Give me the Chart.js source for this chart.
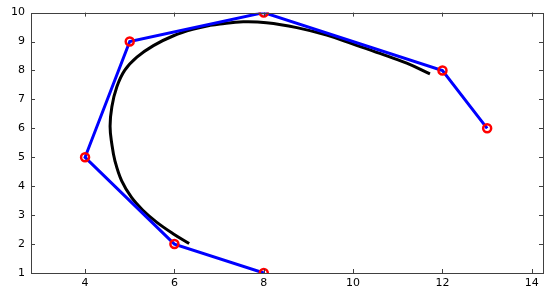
<!DOCTYPE html>
<html>
<head>
<meta charset="utf-8">
<script src="https://cdn.jsdelivr.net/npm/chart.js@4"></script>
<style>
  html, body { margin: 0; padding: 0; background: #fff; }
  #wrap { width: 550px; height: 293px; }
</style>
</head>
<body>
<div id="wrap"><canvas id="splineChart"></canvas></div>
<script>
// Control polygon (blue with red markers)
const ctrlX = [8, 6, 4, 5, 8, 12, 13];
const ctrlY = [1, 2, 5, 9, 10, 8, 6];

// Spline curve
const curveX = [6.33, 5.97, 5.60, 5.30, 5.04, 4.82, 4.67, 4.60, 4.56, 4.60, 4.71, 4.89, 5.16, 5.53, 5.98, 6.43, 6.80, 7.02, 7.54, 8.06, 8.74, 9.41, 10.00, 10.60, 11.20, 11.72];
const curveY = [2.02, 2.36, 2.76, 3.16, 3.61, 4.18, 4.87, 5.45, 6.07, 6.75, 7.43, 8.01, 8.46, 8.86, 9.20, 9.43, 9.56, 9.61, 9.68, 9.65, 9.48, 9.22, 8.91, 8.59, 8.25, 7.88];

// Tick labels
const xTicks = [4, 6, 8, 10, 12, 14];
const yTicks = [1, 2, 3, 4, 5, 6, 7, 8, 9, 10];

const toPoints = (xs, ys) => xs.map((x, i) => ({ x: x, y: ys[i] }));

// Box around the axes with inward ticks, like the original
const boxTicks = {
  id: 'boxTicks',
  afterDraw(chart) {
    const { ctx, chartArea: a, scales } = chart;
    ctx.save();
    ctx.strokeStyle = '#404040';
    ctx.lineWidth = 1;
    ctx.beginPath();
    xTicks.forEach(v => {
      const px = Math.round(scales.x.getPixelForValue(v)) + 0.5;
      ctx.moveTo(px, a.bottom); ctx.lineTo(px, a.bottom - 4);
      ctx.moveTo(px, a.top); ctx.lineTo(px, a.top + 4);
    });
    yTicks.forEach(v => {
      const py = Math.round(scales.y.getPixelForValue(v)) + 0.5;
      ctx.moveTo(a.left, py); ctx.lineTo(a.left + 4, py);
      ctx.moveTo(a.right, py); ctx.lineTo(a.right - 4, py);
    });
    ctx.stroke();
    ctx.strokeRect(Math.round(a.left) + 0.5, Math.round(a.top) + 0.5,
      Math.round(a.right - a.left), Math.round(a.bottom - a.top));
    ctx.restore();
  }
};

const ctx = document.getElementById('splineChart').getContext('2d');

new Chart(ctx, {
  type: 'scatter',
  data: {
    datasets: [
      {
        label: 'Spline',
        data: toPoints(curveX, curveY),
        showLine: true,
        borderColor: '#000000',
        borderWidth: 3,
        pointRadius: 0,
        tension: 0.4,
        order: 2,
      },
      {
        label: 'Control polygon',
        data: toPoints(ctrlX, ctrlY),
        showLine: true,
        borderColor: '#0000ff',
        borderWidth: 3,
        pointRadius: 4,
        pointBorderWidth: 2.5,
        pointBorderColor: '#ff0000',
        pointBackgroundColor: 'rgba(0,0,0,0)',
        tension: 0,
        order: 1,
      },
    ],
  },
  options: {
    responsive: true,
    maintainAspectRatio: false,
    animation: false,
    layout: { padding: { top: 10, right: 7, left: 0, bottom: 0 } },
    scales: {
      x: {
        type: 'linear',
        min: 2.79,
        max: 14.25,
        afterBuildTicks: axis => { axis.ticks = xTicks.map(v => ({ value: v })); },
        afterFit: axis => { axis.height = 20; },
        grid: { display: false, drawTicks: false },
        border: { display: false },
        ticks: {
          color: '#000',
          padding: 4,
          maxRotation: 0,
          font: { family: 'DejaVu Sans', size: 11 },
        },
      },
      y: {
        type: 'linear',
        min: 1,
        max: 10,
        afterBuildTicks: axis => { axis.ticks = yTicks.map(v => ({ value: v })); },
        afterFit: axis => { axis.width = 31; },
        grid: { display: false, drawTicks: false },
        border: { display: false },
        ticks: {
          color: '#000',
          padding: 6,
          font: { family: 'DejaVu Sans', size: 11 },
        },
      },
    },
    plugins: {
      legend: { display: false },
      tooltip: { enabled: false },
    },
  },
  plugins: [boxTicks],
});
</script>
</body>
</html>
